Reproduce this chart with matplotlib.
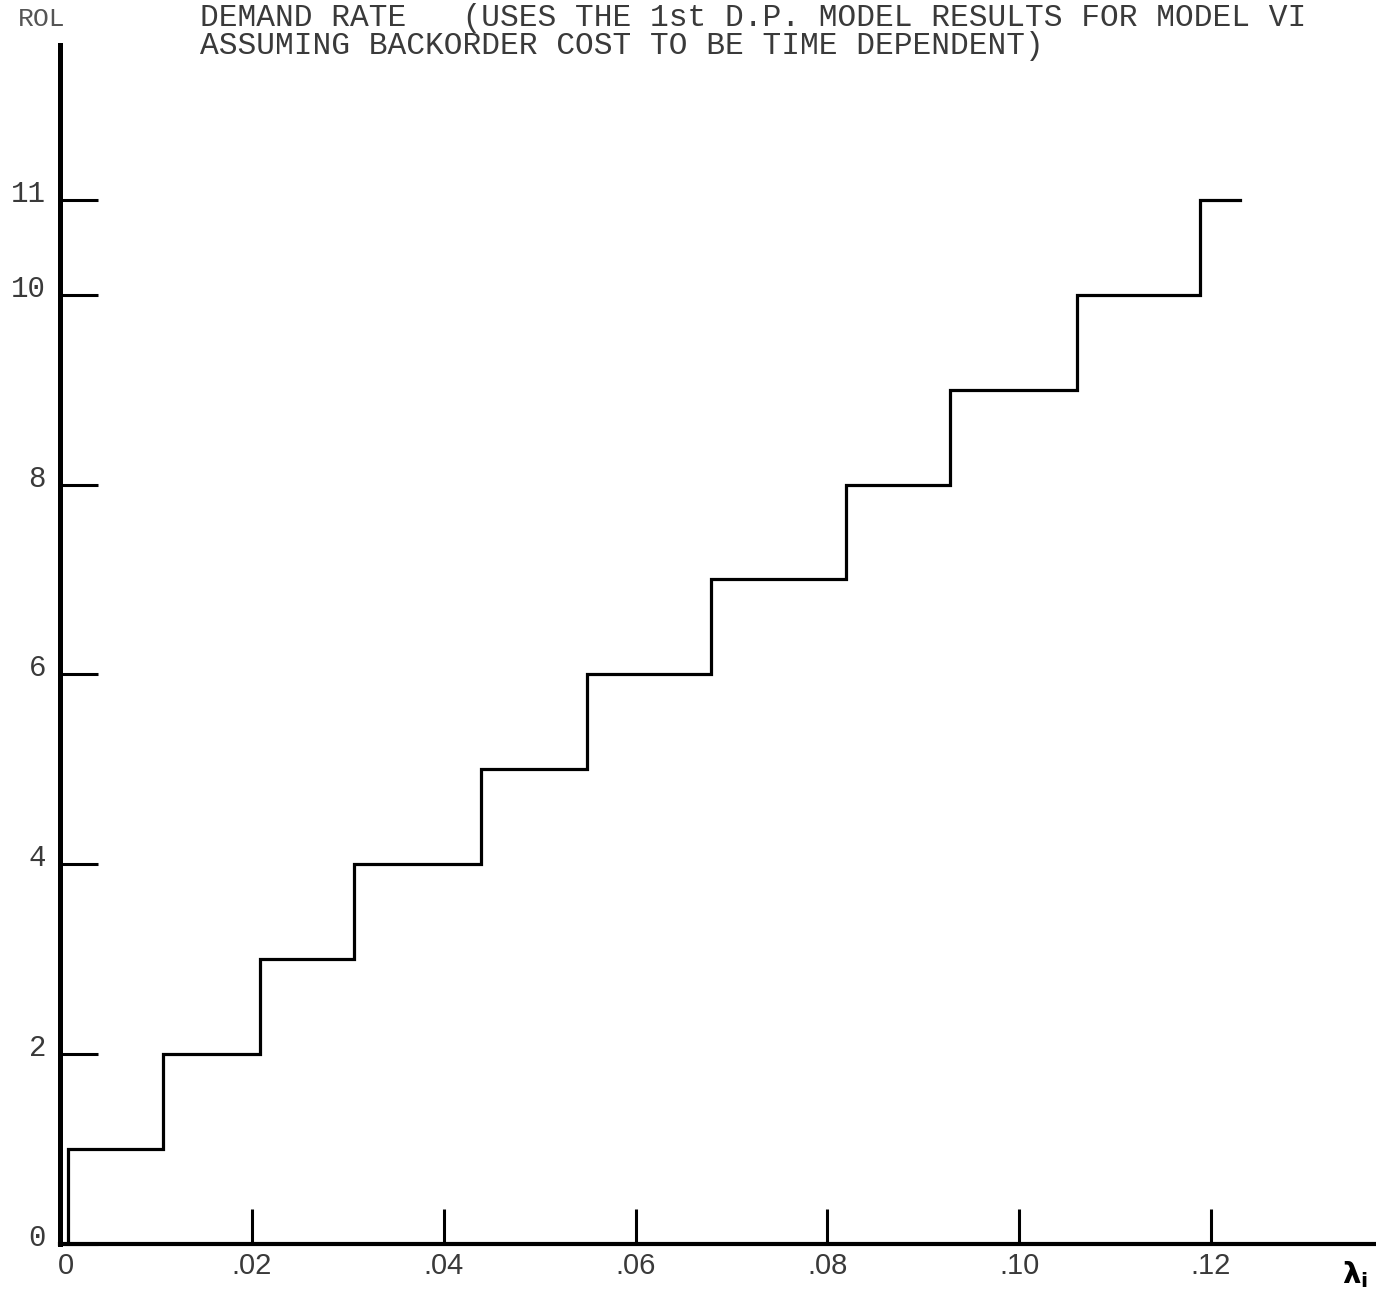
import matplotlib
matplotlib.use("Agg")
import matplotlib.pyplot as plt
from matplotlib.transforms import ScaledTranslation

# step edges (demand rate) and the re-order level reached after each edge
lam_edges = [0.0008, 0.0107, 0.0208, 0.0306, 0.0439, 0.0549, 0.0679,
             0.0819, 0.0928, 0.1060, 0.1188, 0.1230]
rol_levels = [1, 2, 3, 4, 5, 6, 7, 8, 9, 10, 11, 11]

y_ticks = [0, 2, 4, 6, 8, 10, 11]
y_labels = ["0", "2", "4", "6", "8", "10", "11"]
x_ticks = [0, 0.02, 0.04, 0.06, 0.08, 0.10, 0.12]
x_labels = ["0", ".02", ".04", ".06", ".08", ".10", ".12"]

title_1 = "DEMAND RATE   (USES THE 1st D.P. MODEL RESULTS FOR MODEL VI"
title_2 = "ASSUMING BACKORDER COST TO BE TIME DEPENDENT)"

W, H = 1376, 1295
fig = plt.figure(figsize=(W / 100, H / 100), dpi=100)
ax = fig.add_axes([60 / W, 1 - 1244 / H, 1316 / W, 1199 / H])

# vertical rise from zero at the first edge, then post-steps
xs = [lam_edges[0]] + lam_edges
ys = [0] + rol_levels
ax.step(xs, ys, where="post", color="black", lw=2.3, solid_joinstyle="miter")

ax.set_xlim(0, 0.1372)
ax.set_ylim(0, 12.63)

for s in ["top", "right"]:
    ax.spines[s].set_visible(False)
ax.spines["left"].set_linewidth(3.6)
ax.spines["bottom"].set_linewidth(3.0)

mono = "Liberation Mono"
ax.set_yticks(y_ticks)
ax.set_yticklabels(y_labels, family=mono, fontsize=21, color="#3a3a3a")
ax.tick_params(axis="y", direction="in", length=27, width=2.2, pad=10)
ax.set_xticks(x_ticks)
ax.set_xticklabels(x_labels, family="Liberation Sans", fontsize=21, color="#3a3a3a")
ax.tick_params(axis="x", direction="in", length=25, width=2.2, pad=6)

# labels in the scan sit a little above their tick marks
up = ScaledTranslation(0, 0.09, fig.dpi_scale_trans)
for lbl in ax.get_yticklabels():
    lbl.set_transform(lbl.get_transform() + up)
# the zero on the x axis sits a bit right of the origin
ax.get_xticklabels()[0].set_transform(
    ax.get_xticklabels()[0].get_transform() + ScaledTranslation(0.06, 0, fig.dpi_scale_trans))

fig.text(18 / W, 1 - 26 / H, "ROL", family=mono, fontsize=19, color="#555555", va="baseline")
fig.text(200 / W, 1 - 26 / H, title_1, family=mono, fontsize=22.5, color="#3a3a3a", va="baseline")
fig.text(200 / W, 1 - 54 / H, title_2, family=mono, fontsize=22.5, color="#3a3a3a", va="baseline")
fig.text(1342 / W, 1 - 1283 / H, r"$\mathbf{\lambda_i}$", fontsize=21, color="black", va="baseline")

fig.savefig("out.png", dpi=100)
